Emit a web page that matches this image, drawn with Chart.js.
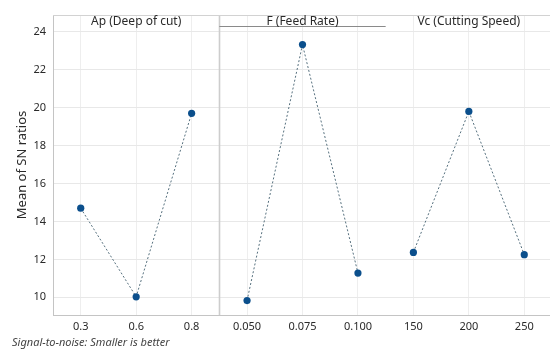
<!DOCTYPE html>
<html>
<head>
<meta charset="utf-8">
<script src="https://cdn.jsdelivr.net/npm/chart.js@4"></script>
<style>
  html, body { margin: 0; padding: 0; background: #fff; overflow: hidden; }
  #wrap { position: absolute; left: 0; top: 0; width: 556px; height: 351px; }
</style>
</head>
<body>
<div id="wrap"><canvas id="c" width="556" height="351"></canvas></div>
<script>
// ---- Data ----
const panelTitles = ['Ap (Deep of cut)', 'F (Feed Rate)', 'Vc (Cutting Speed)'];
const apLevels = ['0.3', '0.6', '0.8'];
const fLevels = ['0.050', '0.075', '0.100'];
const vcLevels = ['150', '200', '250'];
const apMeans = [14.70, 10.03, 19.70];
const fMeans = [9.83, 23.32, 11.28];
const vcMeans = [12.37, 19.80, 12.25];
const yTicks = [10, 12, 14, 16, 18, 20, 22, 24];
const yTitle = 'Mean of SN ratios';
const footnote = 'Signal-to-noise: Smaller is better';

// ---- Build chart data ----
const groups = [apMeans, fMeans, vcMeans];
const labels = [...apLevels, ...fLevels, ...vcLevels];
const datasets = groups.map((vals, g) => {
  const d = new Array(labels.length).fill(null);
  vals.forEach((v, i) => { d[g * 3 + i] = v; });
  return {
    data: d,
    borderColor: '#56707e',
    borderWidth: 1,
    borderDash: [2, 2],
    pointBackgroundColor: '#0b4f8c',
    pointBorderColor: '#0b4f8c',
    pointRadius: 3.6,
    pointBorderWidth: 0,
    spanGaps: false,
    tension: 0
  };
});

const FONT = '"Noto Sans", "Open Sans", sans-serif';

const panelPlugin = {
  id: 'panels',
  beforeDatasetsDraw(chart) {
    const { ctx, chartArea, scales } = chart;
    const x = scales.x;
    const div1 = (x.getPixelForValue(2) + x.getPixelForValue(3)) / 2;
    const div2 = (x.getPixelForValue(5) + x.getPixelForValue(6)) / 2;
    ctx.save();
    // panel divider (only first one is visible in the reference)
    ctx.strokeStyle = '#cdcdcd';
    ctx.lineWidth = 1.6;
    ctx.beginPath();
    ctx.moveTo(Math.round(div1) + 0.5, chartArea.top);
    ctx.lineTo(Math.round(div1) + 0.5, chartArea.bottom);
    ctx.stroke();
    // top border
    ctx.strokeStyle = '#d2d2d2';
    ctx.lineWidth = 1;
    ctx.beginPath();
    ctx.moveTo(chartArea.left, chartArea.top + 0.5);
    ctx.lineTo(chartArea.right, chartArea.top + 0.5);
    ctx.stroke();
    // header underline for middle panel
    ctx.strokeStyle = '#8a8a8a';
    ctx.beginPath();
    ctx.moveTo(div1, chartArea.top + 11.5);
    ctx.lineTo(div2, chartArea.top + 11.5);
    ctx.stroke();
    ctx.restore();
  },
  afterDraw(chart) {
    const { ctx, chartArea, scales } = chart;
    const x = scales.x;
    ctx.save();
    // panel titles
    ctx.fillStyle = '#2a2a2a';
    ctx.font = '12px ' + FONT;
    ctx.textAlign = 'center';
    ctx.textBaseline = 'middle';
    panelTitles.forEach((t, g) => {
      ctx.fillText(t, x.getPixelForValue(g * 3 + 1), chartArea.top + 6.5);
    });
    // y-axis title
    ctx.save();
    ctx.translate(22, (chartArea.top + chartArea.bottom) / 2);
    ctx.rotate(-Math.PI / 2);
    ctx.font = '13px ' + FONT;
    ctx.fillStyle = '#2a2a2a';
    ctx.fillText(yTitle, 0, 0);
    ctx.restore();
    // footnote
    ctx.font = 'italic 11px ' + FONT;
    ctx.fillStyle = '#444';
    ctx.textAlign = 'left';
    ctx.fillText(footnote, 12, 343);
    ctx.restore();
  }
};

new Chart(document.getElementById('c'), {
  type: 'line',
  data: { labels, datasets },
  plugins: [panelPlugin],
  options: {
    responsive: false,
    animation: false,
    layout: { padding: { top: 15, left: 0, right: 2, bottom: 0 } },
    plugins: { legend: { display: false }, tooltip: { enabled: false } },
    scales: {
      x: {
        type: 'category',
        offset: true,
        grid: { offset: false, color: '#eeeeee', drawTicks: false },
        border: { color: '#c4c4c4', width: 1 },
        ticks: { color: '#2a2a2a', font: { size: 11, family: FONT }, padding: 5, autoSkip: false, maxRotation: 0 },
        afterFit(s) { s.height = 36; }
      },
      y: {
        min: 9.07,
        max: 24.88,
        afterBuildTicks(s) { s.ticks = yTicks.map(v => ({ value: v })); },
        grid: { color: '#e8e8e8', drawTicks: false },
        border: { color: '#c4c4c4', width: 1 },
        ticks: { color: '#2a2a2a', font: { size: 11, family: FONT }, padding: 7 },
        afterFit(s) { s.width = 53; }
      }
    }
  }
});
</script>
</body>
</html>
